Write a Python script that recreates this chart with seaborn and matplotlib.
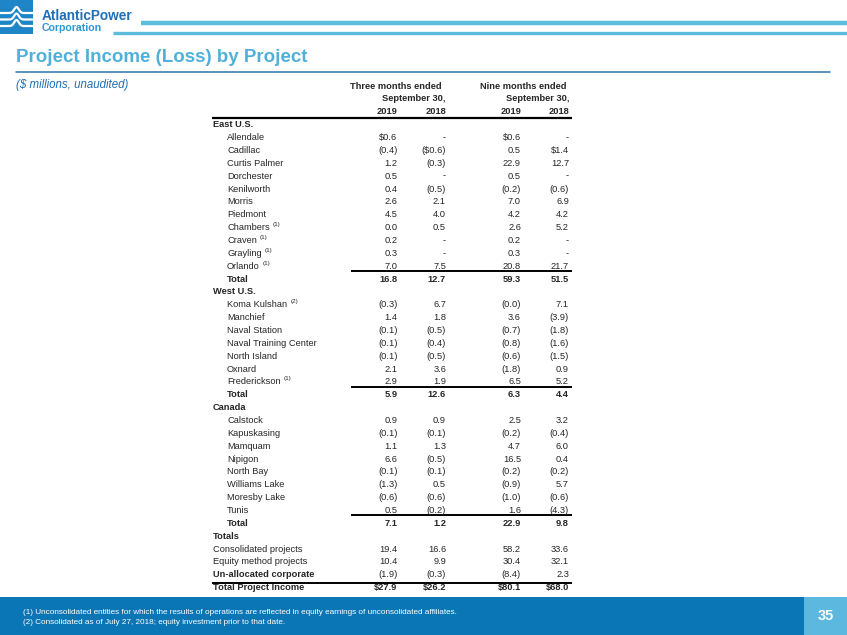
import numpy as np
import matplotlib
matplotlib.use("Agg")
import matplotlib.pyplot as plt
import seaborn as sns

# ---- table data (as printed, $ millions) ----
col_headers = ["2019", "2018", "2019", "2018"]

east_names = ["Allendale", "Cadillac", "Curtis Palmer", "Dorchester", "Kenilworth", "Morris",
              "Piedmont", "Chambers", "Craven", "Grayling", "Orlando"]
east_notes = ["", "", "", "", "", "", "", "(1)", "(1)", "(1)", "(1)"]
east_q3_2019 = ["$0.6", "(0.4)", "1.2", "0.5", "0.4", "2.6", "4.5", "0.0", "0.2", "0.3", "7.0"]
east_q3_2018 = ["-", "($0.6)", "(0.3)", "-", "(0.5)", "2.1", "4.0", "0.5", "-", "-", "7.5"]
east_9m_2019 = ["$0.6", "0.5", "22.9", "0.5", "(0.2)", "7.0", "4.2", "2.6", "0.2", "0.3", "20.8"]
east_9m_2018 = ["-", "$1.4", "12.7", "-", "(0.6)", "6.9", "4.2", "5.2", "-", "-", "21.7"]
east_total = ["16.8", "12.7", "59.3", "51.5"]

west_names = ["Koma Kulshan", "Manchief", "Naval Station", "Naval Training Center",
              "North Island", "Oxnard", "Frederickson"]
west_notes = ["(2)", "", "", "", "", "", "(1)"]
west_q3_2019 = ["(0.3)", "1.4", "(0.1)", "(0.1)", "(0.1)", "2.1", "2.9"]
west_q3_2018 = ["6.7", "1.8", "(0.5)", "(0.4)", "(0.5)", "3.6", "1.9"]
west_9m_2019 = ["(0.0)", "3.6", "(0.7)", "(0.8)", "(0.6)", "(1.8)", "6.5"]
west_9m_2018 = ["7.1", "(3.9)", "(1.8)", "(1.6)", "(1.5)", "0.9", "5.2"]
west_total = ["5.9", "12.6", "6.3", "4.4"]

canada_names = ["Calstock", "Kapuskasing", "Mamquam", "Nipigon", "North Bay",
                "Williams Lake", "Moresby Lake", "Tunis"]
canada_notes = [""] * len(canada_names)
canada_q3_2019 = ["0.9", "(0.1)", "1.1", "6.6", "(0.1)", "(1.3)", "(0.6)", "0.5"]
canada_q3_2018 = ["0.9", "(0.1)", "1.3", "(0.5)", "(0.1)", "0.5", "(0.6)", "(0.2)"]
canada_9m_2019 = ["2.5", "(0.2)", "4.7", "16.5", "(0.2)", "(0.9)", "(1.0)", "1.6"]
canada_9m_2018 = ["3.2", "(0.4)", "6.0", "0.4", "(0.2)", "5.7", "(0.6)", "(4.3)"]
canada_total = ["7.1", "1.2", "22.9", "9.8"]

consolidated = ["19.4", "16.6", "58.2", "33.6"]
equity_method = ["10.4", "9.9", "30.4", "32.1"]
unallocated = ["(1.9)", "(0.3)", "(8.4)", "2.3"]
grand_total = ["$27.9", "$26.2", "$80.1", "$68.0"]

footnotes = [
    "(1) Unconsolidated entities for which the results of operations are reflected in equity earnings of unconsolidated affiliates.",
    "(2) Consolidated as of July 27, 2018; equity investment prior to that date.",
]

# ---- colours ----
LIGHT_BLUE = "#4fb0da"
MID_BLUE = "#1f6fb6"
BAND_BLUE = "#0a76b6"
PAGE_BOX = "#5cb8de"
RULE_BLUE = "#5bbcdd"

sns.set_theme(style="white")
plt.rcParams["font.family"] = ["Liberation Sans", "DejaVu Sans"]

# build row list: (label, note, values, kind)
rows = []
sections = [("East U.S.", east_names, east_notes, east_q3_2019, east_q3_2018, east_9m_2019, east_9m_2018, east_total),
            ("West U.S.", west_names, west_notes, west_q3_2019, west_q3_2018, west_9m_2019, west_9m_2018, west_total),
            ("Canada", canada_names, canada_notes, canada_q3_2019, canada_q3_2018, canada_9m_2019, canada_9m_2018, canada_total)]
for sec, names, notes, a, b, c, d, tot in sections:
    rows.append((sec, "", None, "section"))
    for i, n in enumerate(names):
        rows.append((n, notes[i], [a[i], b[i], c[i], d[i]], "item"))
    rows.append(("Total", "", tot, "subtotal"))
rows.append(("Totals", "", None, "section"))
rows.append(("Consolidated projects", "", consolidated, "plain"))
rows.append(("Equity method projects", "", equity_method, "plain"))
rows.append(("Un-allocated corporate", "", unallocated, "boldplain"))
rows.append(("Total Project Income", "", grand_total, "grand"))

fig = plt.figure(figsize=(8.47, 6.35), dpi=100)
ax = fig.add_axes([0, 0, 1, 1])
ax.set_xlim(0, 847)
ax.set_ylim(635, 0)
ax.axis("off")

# ---- header: logo and rules ----
ax.add_patch(plt.Rectangle((0, 0), 33, 34, color="#1e86c6", lw=0))
xs = np.linspace(0, 33, 60)
for yb in [13, 19.5, 26]:
    bump = 6 * np.exp(-((xs - 16.5) / 3.2) ** 2)
    ax.plot(xs, yb - bump, color="white", lw=1.6, solid_capstyle="butt")
ax.text(42, 19.5, "AtlanticPower", fontsize=9.8, fontweight="bold", color=MID_BLUE, va="baseline")
ax.text(42, 31, "Corporation", fontsize=7.6, fontweight="bold", color="#2b98d6", va="baseline")
ax.plot([141, 847], [23, 23], color=RULE_BLUE, lw=3.2, solid_capstyle="butt")
ax.plot([113, 847], [32.5, 32.5], color=RULE_BLUE, lw=2.4, solid_capstyle="butt")

ax.text(16, 62.5, "Project Income (Loss) by Project", fontsize=13.5, fontweight="bold",
        color=LIGHT_BLUE, va="baseline")
ax.plot([16, 830], [72, 72], color="#2c74a8", lw=1.1)
ax.text(16, 88, "($ millions, unaudited)", fontsize=8.3, style="italic", color=MID_BLUE, va="baseline")

# ---- table ----
fs = 6.7
cap = 3.4  # half cap height in px, baseline offset from row centre
col_x = [397.5, 446, 521, 569]
x_section = 213
x_item = 227
y0, dy = 123.8, 12.86

def put(x, y, s, ha="left", bold=False, **kw):
    return ax.text(x, y + cap, s, fontsize=fs, fontweight="bold" if bold else "normal",
                   ha=ha, va="baseline", **kw)

put(442, 86, "Three months ended", ha="right", bold=True)
put(446, 97.5, "September 30,", ha="right", bold=True)
put(566, 86, "Nine months ended", ha="right", bold=True)
put(569, 97.5, "September 30,", ha="right", bold=True)
for x, h in zip(col_x, col_headers):
    put(x, 110.5, h, ha="right", bold=True)
ax.plot([212, 572], [117.6, 117.6], color="black", lw=1.6, solid_capstyle="butt")

for i, (label, note, vals, kind) in enumerate(rows):
    y = y0 + dy * i
    bold = kind in ("section", "subtotal", "boldplain", "grand")
    x = x_item if kind in ("item", "subtotal") else x_section
    t = put(x, y, label, bold=bold)
    if note:
        ax.annotate(note, xy=(1, 0.55), xycoords=t, xytext=(2.2, 0), textcoords="offset points",
                    fontsize=4.5, va="bottom", ha="left")
    if vals is not None:
        for cx, v in zip(col_x, vals):
            put(cx, y, v, ha="right", bold=kind in ("subtotal", "grand"))
    # rules below last item of each section, and above the grand total
    nxt = rows[i + 1][3] if i + 1 < len(rows) else None
    if kind == "item" and nxt == "subtotal":
        ax.plot([351, 572], [y + 5.8, y + 5.8], color="black", lw=1.4, solid_capstyle="butt")
    if kind == "boldplain":
        ax.plot([212, 572], [y + 8.6, y + 8.6], color="black", lw=1.4, solid_capstyle="butt")

# ---- footer band ----
ax.add_patch(plt.Rectangle((0, 597), 847, 38, color=BAND_BLUE, lw=0))
ax.add_patch(plt.Rectangle((804, 597), 43, 38, color=PAGE_BOX, lw=0))
ax.text(825.5, 616, "35", fontsize=10.5, fontweight="bold", color="white", ha="center", va="center")
for k, fn in enumerate(footnotes):
    ax.text(23, 611 + 10.7 * k + 2.8, fn, fontsize=5.85, color="white", va="baseline")

fig.savefig("out.png", dpi=100)
